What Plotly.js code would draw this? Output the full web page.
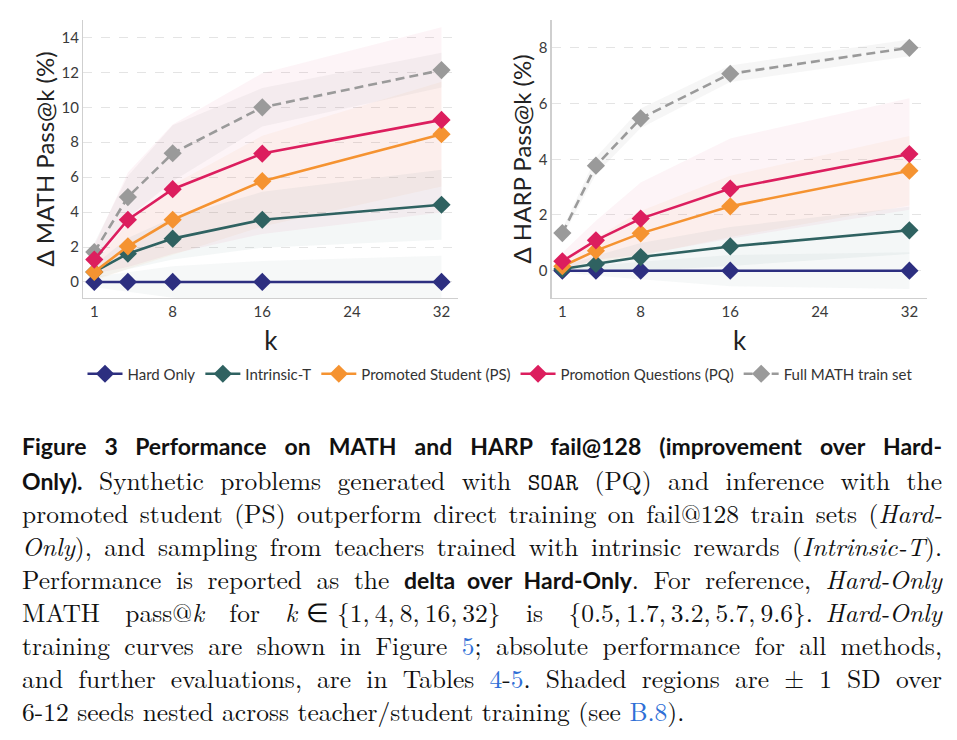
<!DOCTYPE html>
<html>
<head>
<meta charset="utf-8">
<script src="https://cdn.plot.ly/plotly-3.0.1.min.js"></script>
<style>
  html, body { margin: 0; padding: 0; background: #ffffff; }
  #chart { width: 957px; height: 740px; }
</style>
</head>
<body>
<div id="chart"></div>
<script>
// ---------------- data ----------------
const kValues = [1, 4, 8, 16, 32];
const xTickVals = [1, 8, 16, 24, 32];
const seriesNames = ['Hard Only', 'Intrinsic-T', 'Promoted Student (PS)', 'Promotion Questions (PQ)', 'Full MATH train set'];

// MATH delta pass@k (%)
const mathHardOnly = [0, 0, 0, 0, 0];
const mathIntrinsicT = [0.57, 1.62, 2.48, 3.56, 4.42];
const mathPS = [0.57, 2.04, 3.56, 5.77, 8.46];
const mathPQ = [1.28, 3.56, 5.31, 7.35, 9.28];
const mathFull = [1.71, 4.86, 7.37, 10.0, 12.13];
// MATH +-1 SD
const mathHardOnlySD = [0.3, 0.55, 0.9, 1.2, 1.5];
const mathIntrinsicTSD = [0.4, 0.9, 1.2, 1.6, 2.0];
const mathPSSD = [0.5, 1.3, 2.0, 2.6, 3.0];
const mathPQSD = [0.8, 2.7, 3.7, 4.6, 5.3];
const mathFullSD = [0.5, 1.2, 1.6, 1.1, 1.0];

// HARP delta pass@k (%)
const harpHardOnly = [0, 0, 0, 0, 0];
const harpIntrinsicT = [0.06, 0.24, 0.49, 0.87, 1.45];
const harpPS = [0.16, 0.72, 1.34, 2.31, 3.59];
const harpPQ = [0.34, 1.09, 1.87, 2.95, 4.19];
const harpFull = [1.35, 3.77, 5.47, 7.07, 8.0];
// HARP +-1 SD
const harpHardOnlySD = [0.05, 0.18, 0.32, 0.56, 0.66];
const harpIntrinsicTSD = [0.1, 0.3, 0.5, 0.7, 0.85];
const harpPSSD = [0.15, 0.45, 0.8, 1.1, 1.25];
const harpPQSD = [0.3, 0.7, 1.3, 1.8, 2.0];
const harpFullSD = [0.15, 0.3, 0.35, 0.3, 0.3];

const SANS = "font-family:Lato;font-size:23px;font-weight:bold";
const MONO = "font-family:'Latin Modern Mono','Liberation Mono',monospace;font-size:24px";
const LINK = "fill:#2f6fd6";
const captionLines = [
  'Figure 3\u2003Performance on MATH and HARP fail@128 (improvement over Hard-',
  '<span style="' + SANS + '">Only).</span> Synthetic problems generated with <span style="' + MONO + '">SOAR</span> (PQ) and inference with the',
  'promoted student (PS) outperform direct training on fail@128 train sets (<i>Hard-</i>',
  '<i>Only</i>), and sampling from teachers trained with intrinsic rewards (<i>Intrinsic-T</i>).',
  'Performance is reported as the <span style="' + SANS + '">delta over Hard-Only</span>. For reference, <i>Hard-Only</i>',
  'MATH pass@<i>k</i> for <i>k</i>\u2004∈\u2004{1,\u20094,\u20098,\u200916,\u200932} is {0.5,\u20091.7,\u20093.2,\u20095.7,\u20099.6}.\u2002<i>Hard-Only</i>',
  'training curves are shown in Figure <span style="' + LINK + '">5</span>; absolute performance for all methods,',
  'and further evaluations, are in Tables <span style="' + LINK + '">4</span>-<span style="' + LINK + '">5</span>. Shaded regions are ± 1 SD over',
  '6-12 seeds nested across teacher/student training (see <span style="' + LINK + '">B.8</span>).'
];

// ---------------- styles ----------------
const colors = ['#2d2f80', '#2f6261', '#f59331', '#dc1e5e', '#9a9a9a'];
const bandColors = ['rgba(47,98,97,0.045)', 'rgba(47,98,97,0.05)', 'rgba(245,147,49,0.05)', 'rgba(220,30,94,0.05)', 'rgba(140,140,140,0.08)'];
const W = 957, H = 740;
const SERIF_STACK = "'Latin Modern Roman', 'Liberation Serif', serif";

const mathSets = [[mathHardOnly, mathHardOnlySD], [mathIntrinsicT, mathIntrinsicTSD], [mathPS, mathPSSD], [mathPQ, mathPQSD], [mathFull, mathFullSD]];
const harpSets = [[harpHardOnly, harpHardOnlySD], [harpIntrinsicT, harpIntrinsicTSD], [harpPS, harpPSSD], [harpPQ, harpPQSD], [harpFull, harpFullSD]];

const traces = [];
function addPanel(sets, xa, ya, showLeg) {
  sets.forEach(([vals, sd], i) => {
    const upper = vals.map((v, j) => v + sd[j]);
    const lower = vals.map((v, j) => v - sd[j]);
    traces.push({
      x: kValues.concat(kValues.slice().reverse()),
      y: upper.concat(lower.slice().reverse()),
      xaxis: xa, yaxis: ya, type: 'scatter', mode: 'lines',
      fill: 'toself', fillcolor: bandColors[i], line: {width: 0, color: 'rgba(0,0,0,0)'},
      showlegend: false, hoverinfo: 'skip'
    });
  });
  const order = [4, 0, 1, 2, 3];
  order.forEach(i => {
    const [vals] = sets[i];
    traces.push({
      x: kValues, y: vals, xaxis: xa, yaxis: ya, type: 'scatter', mode: 'lines+markers',
      name: seriesNames[i], legendrank: i + 1, showlegend: showLeg,
      line: {color: colors[i], width: 2.6, dash: i === 4 ? '9px,5px' : 'solid'},
      marker: {symbol: 'diamond', size: 14, color: colors[i]},
      hoverinfo: 'skip'
    });
  });
}
addPanel(mathSets, 'x', 'y', true);
addPanel(harpSets, 'x2', 'y2', false);

const axisCommon = {
  showline: true, linecolor: '#cfcfcf', linewidth: 1.3,
  zeroline: false, ticks: '', ticklen: 0, tickfont: {family: 'Lato', size: 15, color: '#3a3a3a'},
  ticklabelstandoff: 0
};
const yDomain = [1 - 298 / H, 1 - 20 / H];

const annotations = captionLines.map((t, i) => ({
  text: i === 0 ? '<b>' + t + '</b>' : t,
  xref: 'paper', yref: 'paper', x: 20 / W, y: 1 - (446 + i * 33) / H,
  xanchor: 'left', yanchor: 'middle', align: 'left', showarrow: false,
  font: i === 0 ? {family: 'Lato', size: 23, color: '#111'} : {family: SERIF_STACK, size: 25.5, color: '#111'}
}));

const layout = {
  width: W, height: H,
  margin: {l: 0, r: 0, t: 0, b: 0},
  paper_bgcolor: '#ffffff', plot_bgcolor: '#ffffff',
  showlegend: true,
  font: {family: 'Lato', color: '#222'},
  xaxis: Object.assign({}, axisCommon, {domain: [83.3 / W, 458.3 / W], anchor: 'y', range: [0.02, 33.5],
    tickvals: xTickVals, showgrid: false,
    title: {text: 'k', font: {family: 'Lato', size: 26, color: '#222'}, standoff: 12}}),
  yaxis: Object.assign({}, axisCommon, {domain: yDomain, anchor: 'x', range: [-0.92, 15.0],
    tick0: 0, dtick: 2, showgrid: true, gridcolor: '#e4e4e4', griddash: 'dash', gridwidth: 1,
    title: {text: 'Δ MATH Pass@k (%)', font: {family: 'Lato', size: 24, color: '#222'}, standoff: 0}}),
  xaxis2: Object.assign({}, axisCommon, {domain: [551.7 / W, 927.3 / W], anchor: 'y2', range: [0.05, 33.6],
    tickvals: xTickVals, showgrid: false,
    title: {text: 'k', font: {family: 'Lato', size: 26, color: '#222'}, standoff: 12}}),
  yaxis2: Object.assign({}, axisCommon, {domain: yDomain, anchor: 'x2', range: [-0.98, 9.0],
    tick0: 0, dtick: 2, showgrid: true, gridcolor: '#e4e4e4', griddash: 'dash', gridwidth: 1,
    title: {text: 'Δ HARP Pass@k (%)', font: {family: 'Lato', size: 24, color: '#222'}, standoff: 0}}),
  legend: {orientation: 'h', x: 500 / W, xanchor: 'center', y: 1 - 374 / H, yanchor: 'middle',
    font: {family: 'Lato', size: 15, color: '#333'}, itemwidth: 35, traceorder: 'normal',
    bgcolor: 'rgba(0,0,0,0)'},
  annotations: annotations
};

Plotly.newPlot('chart', traces, layout, {staticPlot: true, displayModeBar: false}).then(() => {
  const texts = document.querySelectorAll('text.annotation-text');
  const target = 920;
  texts.forEach((el, i) => {
    if (i >= captionLines.length - 1) return;
    const w = el.getComputedTextLength();
    const n = (el.textContent.match(/[ \u00a0]/g) || []).length;
    if (n > 0) el.style.wordSpacing = ((target - w) / n) + 'px';
  });
});
</script>
</body>
</html>
